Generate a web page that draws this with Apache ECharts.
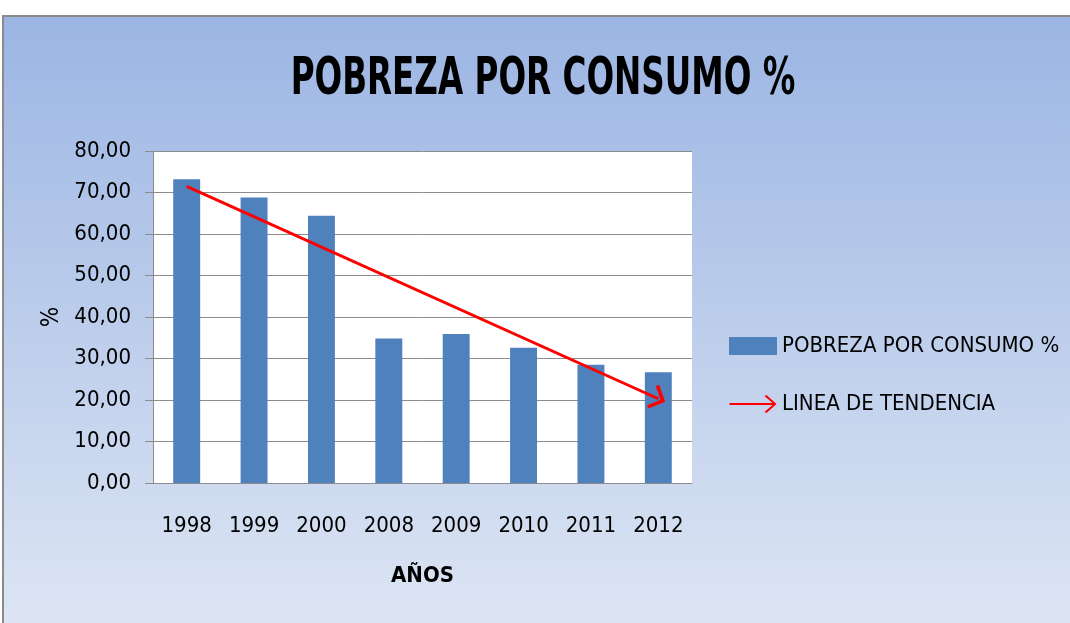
<!DOCTYPE html>
<html>
<head>
<meta charset="utf-8">
<script src="https://cdn.jsdelivr.net/npm/echarts@6/dist/echarts.min.js"></script>
<style>
  html, body { margin: 0; padding: 0; background: #fff; }
  #chart { width: 1070px; height: 623px; }
</style>
</head>
<body>
<div id="chart"></div>
<script>
const years = ['1998', '1999', '2000', '2008', '2009', '2010', '2011', '2012'];
const pobreza = [73.2, 68.8, 64.4, 34.8, 35.9, 32.6, 28.5, 26.7];
// tendencia: punto inicial y final de la flecha
const tendencia = [71.5, 20.3];
const yTicks = [0, 10, 20, 30, 40, 50, 60, 70, 80];

const FONT = "'Liberation Sans Narrow', 'DejaVu Sans Condensed', sans-serif";
const arrowLegend = 'path://M0,8 L43,8 L35,1 L37,0 L47,9 L37,18 L35,17 L43,10 L0,10 Z';
const arrowHead = 'path://M0,10 L10,0 L20,10 L18,12 L10,4 L2,12 Z';

const chart = echarts.init(document.getElementById('chart'));

const option = {
  animation: false,
  backgroundColor: '#fff',
  graphic: [{
    type: 'rect',
    z: -10,
    shape: { x: 3, y: 16, width: 1080, height: 620 },
    style: {
      fill: new echarts.graphic.LinearGradient(0, 0, 0, 1, [
        { offset: 0, color: '#9bb5e3' },
        { offset: 1, color: '#dee6f4' }
      ]),
      stroke: '#8a8a8a',
      lineWidth: 2
    }
  }, {
    // titulo (comprimido horizontalmente como en el original)
    type: 'text',
    x: 543,
    y: 81,
    scaleX: 0.71,
    style: {
      text: 'POBREZA POR CONSUMO %',
      align: 'center',
      verticalAlign: 'middle',
      fontFamily: FONT,
      fontSize: 51,
      fontWeight: 'bold',
      fill: '#000'
    }
  }],
  legend: {
    orient: 'vertical',
    left: 729,
    top: 335,
    padding: 0,
    itemWidth: 48,
    itemHeight: 18,
    itemGap: 36,
    textStyle: { fontFamily: FONT, fontSize: 22, color: '#000' },
    data: [
      { name: 'POBREZA POR CONSUMO %', icon: 'rect' },
      { name: 'LINEA DE TENDENCIA', icon: arrowLegend }
    ]
  },
  grid: { left: 153, top: 151, right: 378, bottom: 140, show: true, backgroundColor: '#fff', borderWidth: 0 },
  xAxis: {
    type: 'category',
    data: years,
    name: 'AÑOS',
    nameLocation: 'middle',
    nameGap: 82,
    nameTextStyle: { fontFamily: FONT, fontSize: 22, fontWeight: 'bold', color: '#000' },
    axisLine: { lineStyle: { color: '#8c8c8c', width: 1 } },
    axisTick: { show: false },
    axisLabel: { fontFamily: FONT, fontSize: 22, color: '#000', margin: 32, interval: 0 }
  },
  yAxis: {
    type: 'value',
    min: yTicks[0],
    max: yTicks[yTicks.length - 1],
    interval: 10,
    name: '%',
    nameLocation: 'middle',
    nameGap: 81,
    nameTextStyle: { fontFamily: FONT, fontSize: 24, color: '#000' },
    axisLine: { show: true, lineStyle: { color: '#8c8c8c', width: 1 } },
    axisTick: { show: true, length: 8, lineStyle: { color: '#8c8c8c' } },
    axisLabel: {
      fontFamily: FONT, fontSize: 22, color: '#000', margin: 22,
      formatter: v => v.toFixed(2).replace('.', ',')
    },
    splitLine: { lineStyle: { color: '#8c8c8c', width: 1 } }
  },
  series: [
    {
      name: 'POBREZA POR CONSUMO %',
      type: 'bar',
      data: pobreza,
      barWidth: '40%',
      itemStyle: { color: '#4f81bd' }
    },
    {
      name: 'LINEA DE TENDENCIA',
      type: 'line',
      data: [],
      itemStyle: { color: '#ff0000' },
      lineStyle: { color: '#ff0000', width: 3 },
      markLine: {
        silent: true,
        animation: false,
        symbol: ['none', arrowHead],
        symbolSize: [26, 15],
        label: { show: false },
        lineStyle: { color: '#ff0000', width: 3, type: 'solid' },
        data: [[
          { coord: [years[0], tendencia[0]] },
          { coord: [years[years.length - 1], tendencia[1]] }
        ]]
      }
    }
  ]
};

chart.setOption(option);
</script>
</body>
</html>
